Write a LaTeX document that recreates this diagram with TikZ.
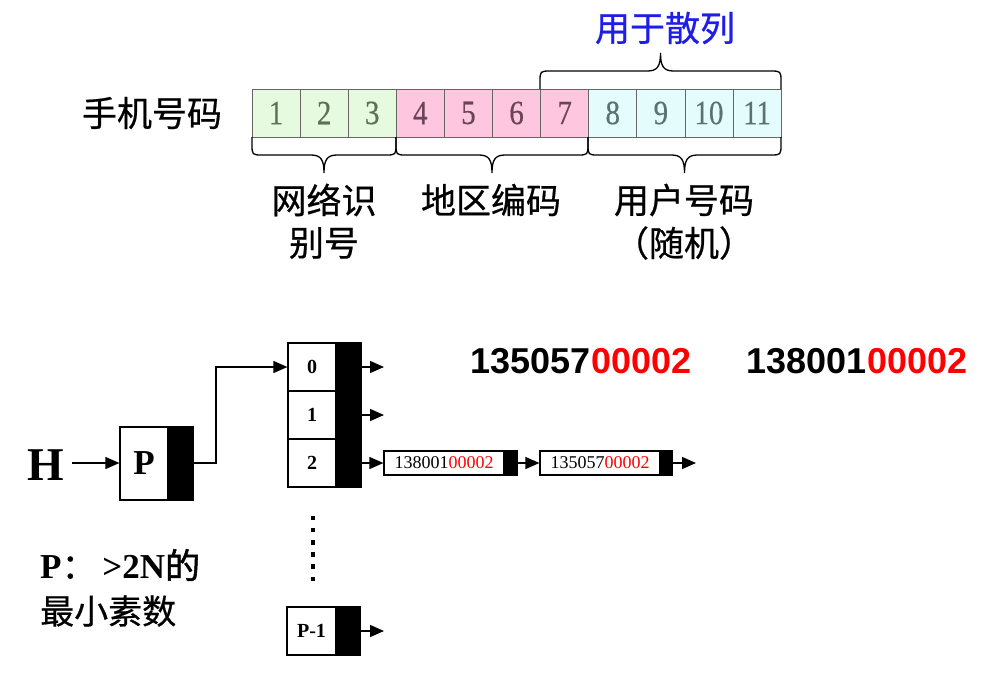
\documentclass[tikz,border=0pt]{standalone}
\usepackage{fontspec}
\setmainfont{Liberation Serif}
\newfontfamily\cjk[FakeBold=0.6]{Noto Sans CJK SC}
\newfontfamily\cjkb[FakeBold=1.5]{Noto Sans CJK SC}
\newfontfamily\cellfont[FakeStretch=0.85,FakeBold=0.4]{Liberation Serif}
\newfontfamily\arialf{Liberation Sans}
\usetikzlibrary{arrows.meta,calc}
\definecolor{cg}{HTML}{E6FADF}
\definecolor{cp}{HTML}{FFC6E0}
\definecolor{cc}{HTML}{E4FCFC}
\definecolor{tg}{HTML}{5A725A}
\definecolor{tp}{HTML}{6A4458}
\definecolor{tc}{HTML}{5A7272}
\definecolor{hblue}{HTML}{1E1EE6}
\definecolor{pred}{HTML}{FF0000}
\newcommand\hbr[4]{%
  \pgfmathsetmacro\xm{(#1+#2)/2}%
  \pgfmathsetmacro\yh{#3+#4*18}%
  \pgfmathsetmacro\yt{#3+#4*36}%
  \pgfmathsetmacro\yc{#3+#4*7}%
  \pgfmathsetmacro\yq{#3+#4*23}%
  \draw[bracestyle] (#1,#3) -- (#1,\yc) .. controls (#1,\yh) .. (#1+11,\yh)
    -- (\xm-13,\yh) .. controls (\xm-3,\yh) and (\xm,\yq) .. (\xm,\yt)
    .. controls (\xm,\yq) and (\xm+3,\yh) .. (\xm+13,\yh)
    -- (#2-11,\yh) .. controls (#2,\yh) .. (#2,\yc) -- (#2,#3);}
\begin{document}
\begin{tikzpicture}[x=1pt,y=-1pt,
  cell/.style={draw=black!60, line width=0.8pt, minimum width=48.1pt, minimum height=48pt,
    inner sep=0pt, font=\cellfont\fontsize{34}{34}\selectfont},
  cjklab/.style={font=\cjk\fontsize{35}{35}\selectfont, inner sep=0pt},
  bracestyle/.style={line width=1.3pt, black},
  wbox/.style={draw, line width=1.2pt, fill=white, inner sep=0pt},
  bbox/.style={draw, line width=1.2pt, fill=black, inner sep=0pt},
  arr/.style={line width=1.3pt, -{Triangle[length=14pt,width=12pt]}},
  coltxt/.style={font=\bfseries\fontsize{20}{20}\selectfont},
  bignum/.style={font=\arialf\bfseries\fontsize{36}{36}\selectfont, inner sep=0pt},
  listtxt/.style={font=\fontsize{18}{18}\selectfont}
]
\useasboundingbox (0,0) rectangle (987,689);
\fill[white] (0,0) rectangle (987,689);

% ---- top: phone number
\node[cjklab] (lab) at (152,113) {手机号码};
\foreach \i/\c/\t in {1/cg/tg,2/cg/tg,3/cg/tg,4/cp/tp,5/cp/tp,6/cp/tp,7/cp/tp,8/cc/tc,9/cc/tc,10/cc/tc,11/cc/tc}
  \node[cell, fill=\c, text=\t] (c\i) at ({252+48.1*(\i-0.5)},113) {\i};

\hbr{252}{396}{137}{1}
\hbr{396}{588}{137}{1}
\hbr{588}{781}{137}{1}
\hbr{540}{781}{89}{-1}

\node[cjklab, text=hblue] (hs) at (665,28) {用于散列};
\node[cjklab] (n1) at (324,200) {网络识};
\node[cjklab] (n2) at (324,243) {别号};
\node[cjklab] (n3) at (491,200) {地区编码};
\node[cjklab] (n4) at (684,200) {用户号码};
\node[cjklab] (n5) at (684,243) {（随机）};

% ---- bottom: hashing structure
\node[font=\bfseries\fontsize{47}{47}\selectfont, inner sep=0pt] (H) at (46,465) {H};
\node[wbox, minimum width=48pt, minimum height=73pt, font=\bfseries\fontsize{35}{35}\selectfont] (Pw) at (144,463.5) {P};
\node[bbox, minimum width=25pt, minimum height=73pt] (Pb) at (180.5,463.5) {};
\coordinate (hs0) at (72,463);
\draw[arr] (hs0) -- (Pw.west |- hs0);

\node[wbox, minimum width=48pt, minimum height=48pt, coltxt] (b0) at (312,367) {0};
\node[wbox, minimum width=48pt, minimum height=48pt, coltxt] (b1) at (312,415) {1};
\node[wbox, minimum width=48pt, minimum height=48pt, coltxt] (b2) at (312,463) {2};
\node[bbox, minimum width=25pt, minimum height=144pt] (bar) at (348.5,415) {};

\draw[arr] (Pb.east |- hs0) -- (216,463) |- (b0.west);

\coordinate (e0) at (384,367);
\coordinate (e1) at (384,415);
\draw[arr] (bar.east |- b0.center) -- (e0);
\draw[arr] (bar.east |- b1.center) -- (e1);

\node[wbox, minimum width=120pt, minimum height=24pt, listtxt] (l1w) at (444,463) {138001\textcolor{pred}{00002}};
\node[bbox, minimum width=13pt, minimum height=24pt] (l1b) at (510.5,463) {};
\node[wbox, minimum width=120pt, minimum height=24pt, listtxt] (l2w) at (600,463) {135057\textcolor{pred}{00002}};
\node[bbox, minimum width=12pt, minimum height=24pt] (l2b) at (666,463) {};
\coordinate (e3) at (696,463);
\draw[arr] (bar.east |- b2.center) -- (l1w.west);
\draw[arr] (l1b.east) -- (l2w.west);
\draw[arr] (l2b.east) -- (e3);

\foreach \k in {0,...,5}
  \fill (310.8,{515.5+12.2*\k}) rectangle ++(4.6,4.6);

\node[wbox, minimum width=49pt, minimum height=48pt, coltxt] (qw) at (311.5,631) {P-1};
\node[bbox, minimum width=24pt, minimum height=48pt] (qb) at (348,631) {};
\coordinate (e4) at (384,631);
\draw[arr] (qb.east) -- (e4);

\node[bignum] (k1) at (581,361) {135057\textcolor{pred}{00002}};
\node[bignum] (k2) at (857,361) {138001\textcolor{pred}{00002}};

\node[anchor=west, inner sep=0pt, font=\fontsize{35}{35}\selectfont] (pt1) at (40,565)
  {\textbf{P}{\cjk ：}\,\textbf{>2N}{\cjkb 的}};
\node[anchor=west, inner sep=0pt, font=\cjk\fontsize{34}{34}\selectfont] (pt2) at (40,611) {最小素数};
\end{tikzpicture}
\end{document}
